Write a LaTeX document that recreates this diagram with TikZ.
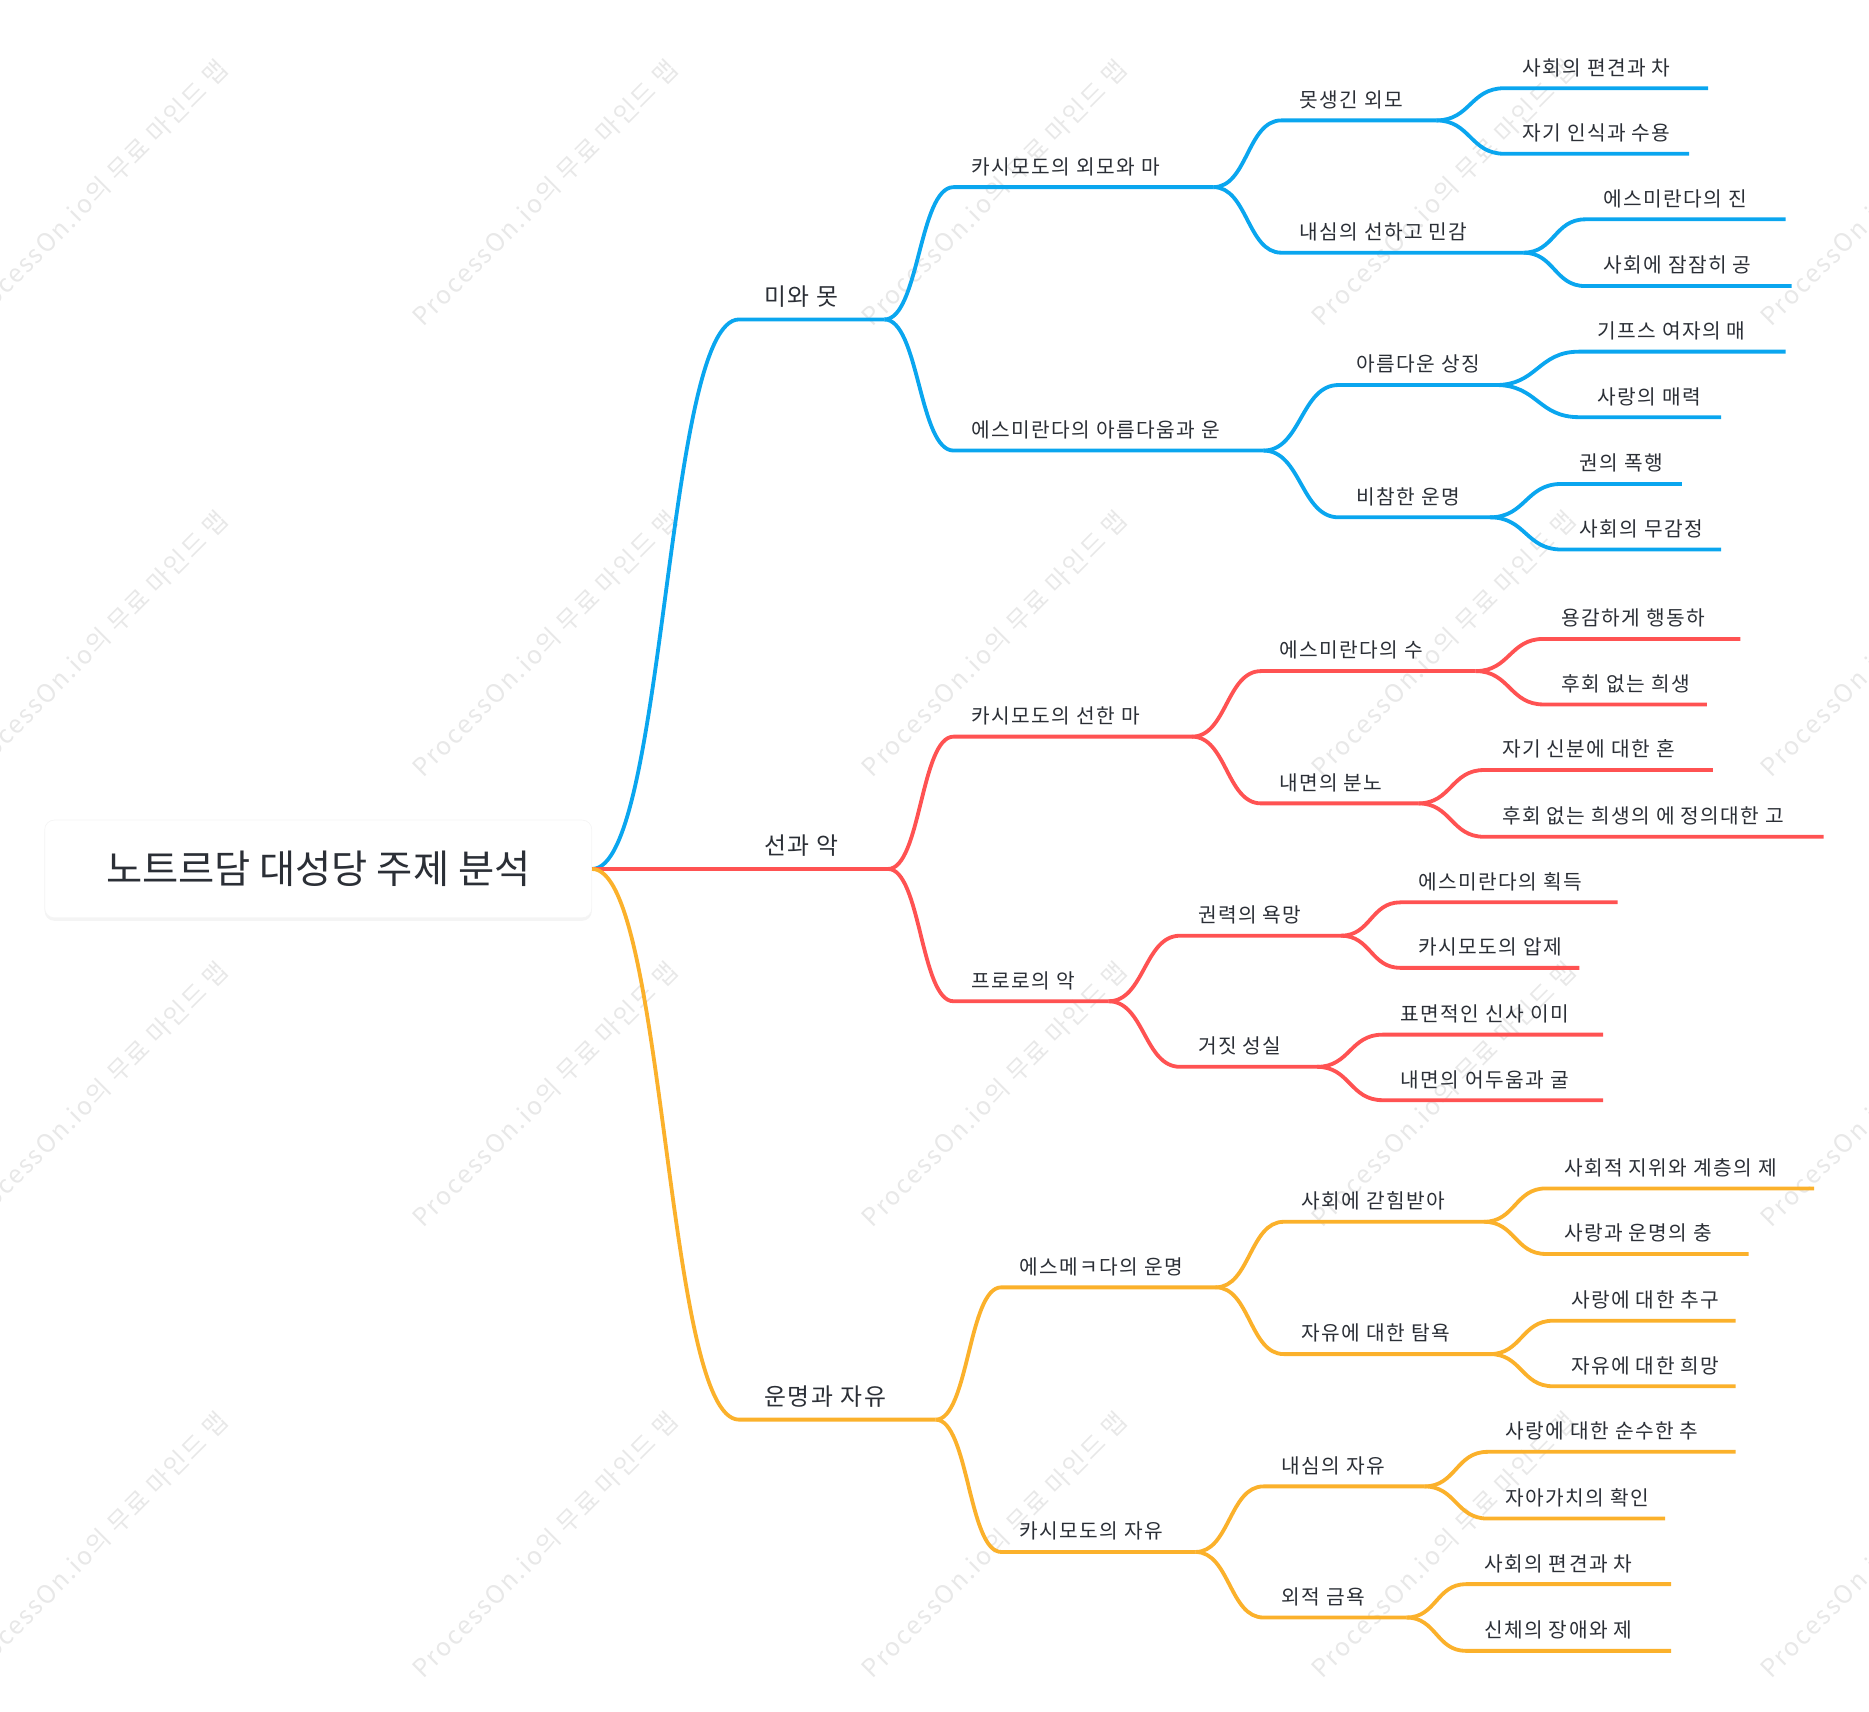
\documentclass[tikz,border=0pt]{standalone}
\usepackage{fontspec}
\setmainfont{Noto Sans CJK KR}[LetterSpace=7]
\newfontfamily\rootfont{Noto Sans CJK KR}
\usetikzlibrary{calc,shadows}

\definecolor{mmblue}{HTML}{0AA6EF}
\definecolor{mmred}{HTML}{FF5252}
\definecolor{mmyellow}{HTML}{FBB12B}
\definecolor{ink}{HTML}{2B2F36}

\tikzset{
  lbl/.style={anchor=base west, xshift=15pt, yshift=11pt, inner sep=0pt, text=ink,
    font=\fontsize{17}{20}\selectfont},
  big/.style={anchor=base west, xshift=21pt, yshift=12pt, inner sep=0pt, text=ink,
    font=\fontsize{20}{24}\selectfont},
  branch/.style={line width=3.2pt, line join=round},
  wmark/.style={rotate=45, text=black!9, font=\fontsize{21}{21}\selectfont},
  rootbox/.style={fill=white, draw=black!4, line width=0.6pt, rounded corners=8pt,
    minimum width=459pt, minimum height=82pt,
    text=ink, font=\rootfont\fontsize{33}{40}\selectfont,
    drop shadow={opacity=0.09, shadow xshift=0pt, shadow yshift=-2.5pt}}
}

% name, parent, line start x, line end x, line y, text
\newcommand{\topic}[7][lbl]{%
  \coordinate (#2-s) at (#4,#6);
  \coordinate (#2-e) at (#5,#6);
  \node[#1] (#2) at (#2-s) {#7};
  \draw[branch] let \p1=(#3-e), \p2=(#2-s) in
    (\p1) .. controls ({(\x1+\x2)/2},\y1) and ({(\x1+\x2)/2},\y2) .. (\p2) -- (#2-e);
}

\begin{document}
\begin{tikzpicture}[x=1pt, y=-1pt]
  \useasboundingbox (0,0) rectangle (1568,1436);
  \clip (0,0) rectangle (1568,1436);

  % watermark
  \foreach \i in {0,...,4} {
    \foreach \j in {0,...,3} {
      \node[wmark] (wm-\i-\j) at ({80+377*\i},{162+378*\j}) {ProcessOn.io의 무료 마인드 맵};
    }
  }

  \node[rootbox] (root) at (267,729) {노트르담 대성당 주제 분석};
  \coordinate (root-e) at (root.east);

  % 미와 못
  \begin{scope}[mmblue]
    \topic[big]{a}{root}{620}{742}{268}{미와 못}
    \topic{a1}{a}{800}{1018}{157}{카시모도의 외모와 마}
    \topic{a11}{a1}{1075}{1205}{101}{못생긴 외모}
    \topic{a111}{a11}{1262}{1433}{74}{사회의 편견과 차}
    \topic{a112}{a11}{1262}{1417}{129}{자기 인식과 수용}
    \topic{a12}{a1}{1075}{1278}{212}{내심의 선하고 민감}
    \topic{a121}{a12}{1330}{1498}{184}{에스미란다의 진}
    \topic{a122}{a12}{1330}{1503}{240}{사회에 잠잠히 공}
    \topic{a2}{a}{800}{1060}{378}{에스미란다의 아름다움과 운}
    \topic{a21}{a2}{1123}{1255}{323}{아름다운 상징}
    \topic{a211}{a21}{1325}{1498}{295}{기프스 여자의 매}
    \topic{a212}{a21}{1325}{1444}{350}{사랑의 매력}
    \topic{a22}{a2}{1123}{1250}{434}{비참한 운명}
    \topic{a221}{a22}{1310}{1411}{406}{권의 폭행}
    \topic{a222}{a22}{1310}{1444}{461}{사회의 무감정}
  \end{scope}

  % 선과 악
  \begin{scope}[mmred]
    \topic[big]{b}{root}{620}{745}{729}{선과 악}
    \topic{b1}{b}{800}{1000}{618}{카시모도의 선한 마}
    \topic{b11}{b1}{1058}{1238}{563}{에스미란다의 수}
    \topic{b111}{b11}{1295}{1460}{536}{용감하게 행동하}
    \topic{b112}{b11}{1295}{1432}{591}{후회 없는 희생}
    \topic{b12}{b1}{1058}{1190}{674}{내면의 분노}
    \topic{b121}{b12}{1245}{1437}{646}{자기 신분에 대한 혼}
    \topic{b122}{b12}{1245}{1530}{702}{후회 없는 희생의 에 정의대한 고}
    \topic{b2}{b}{800}{930}{840}{프로로의 악}
    \topic{b21}{b2}{990}{1125}{785}{권력의 욕망}
    \topic{b211}{b21}{1175}{1357}{757}{에스미란다의 획득}
    \topic{b212}{b21}{1175}{1325}{812}{카시모도의 압제}
    \topic{b22}{b2}{990}{1105}{895}{거짓 성실}
    \topic{b221}{b22}{1160}{1345}{868}{표면적인 신사 이미}
    \topic{b222}{b22}{1160}{1345}{923}{내면의 어두움과 굴}
  \end{scope}

  % 운명과 자유
  \begin{scope}[mmyellow]
    \topic[big]{c}{root}{620}{785}{1191}{운명과 자유}
    \topic{c1}{c}{840}{1020}{1080}{에스메ㅋ다의 운명}
    \topic{c11}{c1}{1077}{1245}{1025}{사회에 갇힘받아}
    \topic{c111}{c11}{1297}{1522}{997}{사회적 지위와 계층의 제}
    \topic{c112}{c11}{1297}{1467}{1052}{사랑과 운명의 충}
    \topic{c12}{c1}{1077}{1250}{1136}{자유에 대한 탐욕}
    \topic{c121}{c12}{1303}{1456}{1108}{사랑에 대한 추구}
    \topic{c122}{c12}{1303}{1456}{1163}{자유에 대한 희망}
    \topic{c2}{c}{840}{1003}{1302}{카시모도의 자유}
    \topic{c21}{c2}{1060}{1195}{1247}{내심의 자유}
    \topic{c211}{c21}{1248}{1456}{1218}{사랑에 대한 순수한 추}
    \topic{c212}{c21}{1248}{1397}{1274}{자아가치의 확인}
    \topic{c22}{c2}{1060}{1180}{1357}{외적 금욕}
    \topic{c221}{c22}{1230}{1402}{1329}{사회의 편견과 차}
    \topic{c222}{c22}{1230}{1402}{1385}{신체의 장애와 제}
  \end{scope}
\end{tikzpicture}
\end{document}
